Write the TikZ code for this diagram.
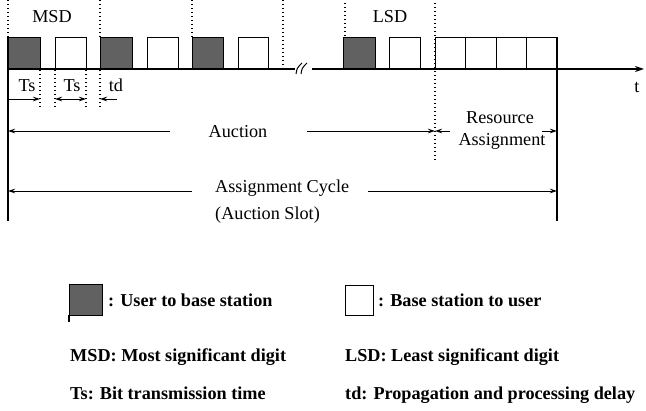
\documentclass[tikz,border=0pt]{standalone}
\usepackage{fontspec}
\setmainfont{Liberation Serif}
\usetikzlibrary{arrows.meta}
\tikzset{
  x=1pt,y=-1pt,
  slot/.style={draw=black,line width=1.1pt,minimum width=31pt,minimum height=31pt,inner sep=0pt,anchor=south west},
  sbox/.style={slot,fill=black!62},
  wbox/.style={slot,fill=white},
  dotv/.style={line width=1.1pt,dash pattern=on 1.3pt off 2.7pt},
  solidv/.style={line width=1.1pt},
  axis/.style={line width=1.4pt},
  arr/.style={line width=0.9pt,-{Stealth[length=7pt,width=4.5pt]}},
  darr/.style={line width=0.9pt,{Stealth[length=7pt,width=4.5pt]}-{Stealth[length=7pt,width=4.5pt]}},
  lbl/.style={font=\fontsize{18.2}{20}\selectfont,inner sep=0pt},
  leg/.style={font=\fontsize{18.2}{20}\selectfont\bfseries,inner sep=0pt,anchor=base west},
}
\begin{document}
\begin{tikzpicture}
\useasboundingbox (0,0) rectangle (646,411);
% slots
\node[sbox,minimum width=32pt] (b1) at (8,69) {};
\node[wbox] (b2) at (55,69) {};
\node[sbox,minimum width=32pt] (b3) at (100,69) {};
\node[wbox] (b4) at (147,69) {};
\node[sbox] (b5) at (192,69) {};
\node[wbox,minimum width=30pt] (b6) at (238,69) {};
\node[sbox,minimum width=32pt] (b7) at (343,69) {};
\node[wbox] (b8) at (389,69) {};
\node[wbox,minimum width=30pt] (r1) at (435,69) {};
\node[wbox] (r2) at (465,69) {};
\node[wbox,minimum width=30pt] (r3) at (496,69) {};
\node[wbox] (r4) at (526,69) {};
% time axis
\coordinate (a0) at (8,69);
\coordinate (a1) at (295,69);
\coordinate (a2) at (312,69);
\coordinate (a3) at (644,69);
\draw[axis] (a0) -- (a1);
\draw[axis,-{Stealth[length=9pt,width=6pt]}] (a2) -- (a3);
\coordinate (k1a) at (296,74); \coordinate (k1b) at (302,63);
\coordinate (k2a) at (301,74); \coordinate (k2b) at (307,63);
\draw[line width=1pt] (k1a) .. controls (297,68) .. (k1b);
\draw[line width=1pt] (k2a) .. controls (302,68) .. (k2b);
% vertical solid lines
\coordinate (L0) at (8,37); \coordinate (L1) at (8,221);
\coordinate (R0) at (557,37); \coordinate (R1) at (557,221);
\draw[solidv] (L0) -- (L1);
\draw[solidv] (R0) -- (R1);
% dotted verticals (top)
\foreach \n/\xx/\ya/\yb in {t1/8/0/37, t2/100/0/37, t3/192/0/37, t4/283/0/66, t5/345/3/37, t6/435/3/160}{
  \coordinate (\n a) at (\xx,\ya); \coordinate (\n b) at (\xx,\yb);
  \draw[dotv] (\n a) -- (\n b);
}
% dotted verticals (bottom)
\foreach \n/\xx in {d1/40, d2/55, d3/86, d4/100}{
  \coordinate (\n a) at (\xx,70); \coordinate (\n b) at (\xx,107);
  \draw[dotv] (\n a) -- (\n b);
}
% labels on top
\node[lbl,anchor=base] (msd) at (52,23) {MSD};
\node[lbl,anchor=base] (lsd) at (390,23) {LSD};
\node[lbl,anchor=base] (t) at (637,93) {t};
% Ts / td
\node[lbl,anchor=base] (ts1) at (27,92) {Ts};
\node[lbl,anchor=base] (ts2) at (72,92) {Ts};
\node[lbl,anchor=base] (td) at (116,92) {td};
\coordinate (s1a) at (9,99); \coordinate (s1b) at (40,99);
\coordinate (s2a) at (55,99); \coordinate (s2b) at (86,99);
\coordinate (s3a) at (117,99); \coordinate (s3b) at (100,99);
\draw[arr] (s1a) -- (s1b);
\draw[darr] (s2a) -- (s2b);
\draw[arr] (s3a) -- (s3b);
% Auction
\node[lbl,anchor=base] (auc) at (238,138) {Auction};
\coordinate (u1) at (170,131); \coordinate (u0) at (8,131);
\coordinate (u2) at (307,131); \coordinate (u3) at (435,131);
\draw[arr] (u1) -- (u0);
\draw[arr] (u2) -- (u3);
% Resource Assignment
\node[lbl,anchor=base] (res1) at (500,124) {Resource};
\node[lbl,anchor=base] (res2) at (502,146) {Assignment};
\coordinate (v1) at (450,131); \coordinate (v0) at (435,131);
\coordinate (v2) at (542,131); \coordinate (v3) at (557,131);
\draw[arr] (v1) -- (v0);
\draw[arr] (v2) -- (v3);
% Assignment Cycle
\node[lbl,anchor=base west] (ac) at (215,193) {Assignment Cycle};
\node[lbl,anchor=base west] (as) at (215,220) {(Auction Slot)};
\coordinate (w1) at (192,191); \coordinate (w0) at (8,191);
\coordinate (w2) at (368,191); \coordinate (w3) at (557,191);
\draw[arr] (w1) -- (w0);
\draw[arr] (w2) -- (w3);
% legend
\node[draw=black,line width=1.1pt,fill=black!62,minimum width=33pt,minimum height=31pt,inner sep=0pt,anchor=north west] (ls) at (69,284) {};
\coordinate (lt0) at (69,315); \coordinate (lt1) at (69,322);
\draw[line width=1.1pt] (lt0) -- (lt1);
\node[leg] (lst) at (108,307) {: User to base station};
\node[draw=black,line width=1.1pt,fill=white,minimum width=28pt,minimum height=30pt,inner sep=0pt,anchor=north west] (lw) at (345,285) {};
\node[leg] (lwt) at (378,307) {: Base station to user};
\node[leg] (lm) at (70,362) {MSD: Most significant digit};
\node[leg] (ll) at (345,362) {LSD: Least significant digit};
\node[leg] (lts) at (70,400) {Ts: Bit transmission time};
\node[leg] (ltd) at (345,400) {td: Propagation and processing delay};
\end{tikzpicture}
\end{document}
